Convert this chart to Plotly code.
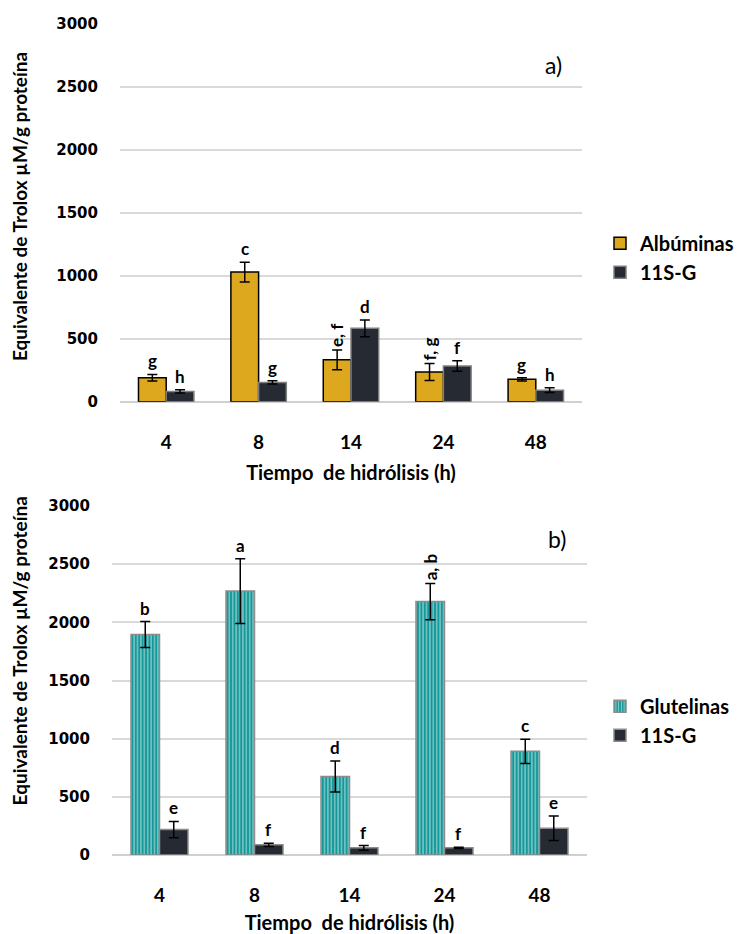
import plotly.graph_objects as go

# ---------------- data ----------------
hours = ["4", "8", "14", "24", "48"]

alb_vals = [191, 1030, 333, 237, 178]
alb_err = [26, 78, 79, 68, 13]
alb_lbl = ["g", "c", "e, f", "f, g", "g"]

g11_top_vals = [82, 154, 583, 284, 92]
g11_top_err = [13, 13, 67, 41, 19]
g11_top_lbl = ["h", "g", "d", "f", "h"]

glu_vals = [1895, 2268, 675, 2178, 891]
glu_err = [111, 278, 134, 155, 104]
glu_lbl = ["b", "a", "d", "a, b", "c"]

g11_bot_vals = [219, 88, 62, 62, 231]
g11_bot_err = [70, 14, 20, 5, 105]
g11_bot_lbl = ["e", "f", "f", "f", "e"]

y_ticks = [0, 500, 1000, 1500, 2000, 2500, 3000]

# ---------------- styles ----------------
GOLD = "#DDA71E"
DARK = "#262A33"
TEAL = "#14989A"
FONT = "Lato"
W, H = 740, 934

fig = go.Figure()

err_style = dict(type="data", color="black", thickness=1.5, width=5, visible=True)

fig.add_trace(go.Bar(
    x=hours, y=alb_vals, name="Albúminas", xaxis="x", yaxis="y",
    marker=dict(color=GOLD, line=dict(color="black", width=1.5)),
    error_y=dict(array=alb_err, **err_style), legend="legend"))
fig.add_trace(go.Bar(
    x=hours, y=g11_top_vals, name="11S-G", xaxis="x", yaxis="y",
    marker=dict(color=DARK, line=dict(color="#7f7f7f", width=1.5)),
    error_y=dict(array=g11_top_err, **err_style), legend="legend"))

fig.add_trace(go.Bar(
    x=hours, y=glu_vals, name="Glutelinas", xaxis="x2", yaxis="y2",
    marker=dict(color=TEAL, line=dict(color="#8c8c8c", width=1.5),
                pattern=dict(shape="|", fgcolor="white", bgcolor=TEAL,
                             size=3.4, solidity=0.38)),
    error_y=dict(array=glu_err, **err_style), legend="legend2"))
fig.add_trace(go.Bar(
    x=hours, y=g11_bot_vals, name="11S-G", xaxis="x2", yaxis="y2",
    marker=dict(color=DARK, line=dict(color="#8c8c8c", width=1.5)),
    error_y=dict(array=g11_bot_err, **err_style), legend="legend2"))

annotations = []


def add_letters(vals, errs, lbls, xref, yref, offset):
    for i, (v, e, t) in enumerate(zip(vals, errs, lbls)):
        rot = "," in t
        annotations.append(dict(
            x=i + offset, y=v + e, xref=xref, yref=yref, text=t,
            showarrow=False, xanchor="center", yanchor="bottom",
            textangle=-90 if rot else 0, yshift=1,
            font=dict(family=FONT, size=17, color="black", weight="bold")))


add_letters(alb_vals, alb_err, alb_lbl, "x", "y", -0.15)
add_letters(g11_top_vals, g11_top_err, g11_top_lbl, "x", "y", 0.15)
add_letters(glu_vals, glu_err, glu_lbl, "x2", "y2", -0.15)
add_letters(g11_bot_vals, g11_bot_err, g11_bot_lbl, "x2", "y2", 0.15)

# panel labels
for txt, px, py in (("a)", 553, 57), ("b)", 557, 540)):
    annotations.append(dict(x=px / W, y=1 - py / H, xref="paper", yref="paper",
                            xanchor="center", yanchor="middle",
                            text=txt, showarrow=False,
                            font=dict(family=FONT, size=23, color="black")))

# y-axis titles
ytitle = "Equivalente de Trolox µM/g proteína"
for yc in (202, 655):
    annotations.append(dict(x=19 / W, y=1 - yc / H, xref="paper", yref="paper",
                            xanchor="center", yanchor="middle",
                            text=ytitle, textangle=-90, showarrow=False,
                            font=dict(family=FONT, size=19, color="black",
                                      weight="bold")))

xtitle = "Tiempo  de hidrólisis (h)"
xaxis_common = dict(type="category", showgrid=False, showline=False,
                    ticks="outside", ticklen=23, tickcolor="rgba(0,0,0,0)",
                    tickfont=dict(family=FONT, size=19, color="black",
                                  weight="bold"),
                    title=dict(text=xtitle, standoff=14,
                               font=dict(family=FONT, size=20, color="black",
                                         weight="bold")))
yaxis_common = dict(range=[0, 3000], tickvals=y_ticks, showgrid=True,
                    gridcolor="#d9d9d9", gridwidth=1.5, zeroline=True,
                    zerolinecolor="#d0d0d0", zerolinewidth=1.5,
                    showline=False, ticks="outside", ticklen=18,
                    tickcolor="rgba(0,0,0,0)",
                    tickfont=dict(family="DejaVu Sans", size=15,
                                  color="black", weight="bold"))

legend_font = dict(family=FONT, size=20, color="black", weight="bold")

fig.update_layout(
    width=W, height=H, margin=dict(l=0, r=0, t=0, b=0),
    paper_bgcolor="white", plot_bgcolor="white",
    barmode="group", bargap=0.4, bargroupgap=0,
    xaxis=dict(domain=[120 / W, 582 / W], anchor="y", **xaxis_common),
    yaxis=dict(domain=[1 - 400.5 / H, 1 - 15.3 / H], anchor="x",
               **yaxis_common),
    xaxis2=dict(domain=[112 / W, 587 / W], anchor="y2", **xaxis_common),
    yaxis2=dict(domain=[1 - 862.7 / H, 1 - 506.7 / H], anchor="x2",
                **yaxis_common),
    legend=dict(x=600 / W, y=1 - 219 / H, xanchor="left", yanchor="top",
                bgcolor="rgba(0,0,0,0)", tracegroupgap=0, font=legend_font),
    legend2=dict(x=600 / W, y=1 - 691 / H, xanchor="left", yanchor="top",
                 bgcolor="rgba(0,0,0,0)", tracegroupgap=0, font=legend_font),
    annotations=annotations,
    showlegend=True,
)

fig.write_html("out.html")
